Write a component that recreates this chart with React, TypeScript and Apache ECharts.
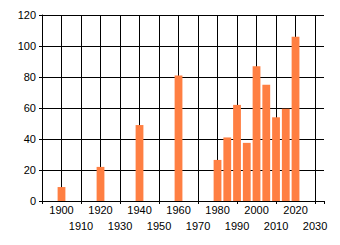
import React, { useEffect, useRef } from "react";
import * as echarts from "echarts";

const years = [1900, 1920, 1940, 1960, 1980, 1985, 1990, 1995, 2000, 2005, 2010, 2015, 2020];
const values = [9, 22, 49, 81, 26.5, 41, 62, 37.5, 87, 75, 54, 59.5, 106];
const yTicks = [0, 20, 40, 60, 80, 100, 120];
const xLabelFirst = 1900;
const xLabelLast = 2030;

const FONT = "Liberation Sans";

export default function App() {
  const ref = useRef<HTMLDivElement>(null);
  useEffect(() => {
    if (!ref.current) return;
    const chart = echarts.init(ref.current, undefined, { renderer: "svg" });
    const xMin = 1890;
    const xMax = 2034.6;
    chart.setOption({
      animation: false,
      backgroundColor: "#fff",
      grid: { left: 42, top: 15, width: 282, height: 186, containLabel: false },
      xAxis: [
        {
          type: "value",
          min: xMin,
          max: xMax,
          interval: 10,
          axisLine: { show: true, lineStyle: { color: "#000", width: 1 } },
          axisTick: { show: false },
          splitLine: { show: true, showMaxLine: false, lineStyle: { color: "#000", width: 1 } },
          axisLabel: {
            show: true,
            margin: 1,
            color: "#000",
            fontFamily: FONT,
            fontSize: 11,
            lineHeight: 16,
            showMaxLabel: false,
            formatter: (v: number) => {
              if (v < xLabelFirst || v > xLabelLast || Math.round(v) % 10 !== 0) return "";
              const dec = Math.round(v / 10);
              return dec % 2 === 1 ? "\n" + v : String(v);
            },
          },
        },
        {
          type: "value",
          position: "bottom",
          min: xMin,
          max: xMax,
          interval: 20,
          axisLine: { show: false },
          axisTick: { show: true, length: 3, lineStyle: { color: "#000", width: 1 } },
          splitLine: { show: false },
          axisLabel: { show: false },
        },
      ],
      yAxis: {
        type: "value",
        min: yTicks[0],
        max: yTicks[yTicks.length - 1],
        interval: 20,
        axisLine: { show: true, lineStyle: { color: "#000", width: 1 } },
        axisTick: { show: true, length: 3, lineStyle: { color: "#000", width: 1 } },
        splitLine: { show: true, lineStyle: { color: "#000", width: 1 } },
        axisLabel: { margin: 6, color: "#000", fontFamily: FONT, fontSize: 11 },
      },
      series: [
        {
          type: "bar",
          xAxisIndex: 0,
          barWidth: 7.8,
          itemStyle: { color: "#FF7F42" },
          data: years.map((y, i) => [y, values[i]]),
        },
      ],
    });
    return () => chart.dispose();
  }, []);
  return (
    <div
      ref={ref}
      style={{ position: "fixed", left: 0, top: 0, width: 340, height: 245, background: "#fff" }}
    />
  );
}
